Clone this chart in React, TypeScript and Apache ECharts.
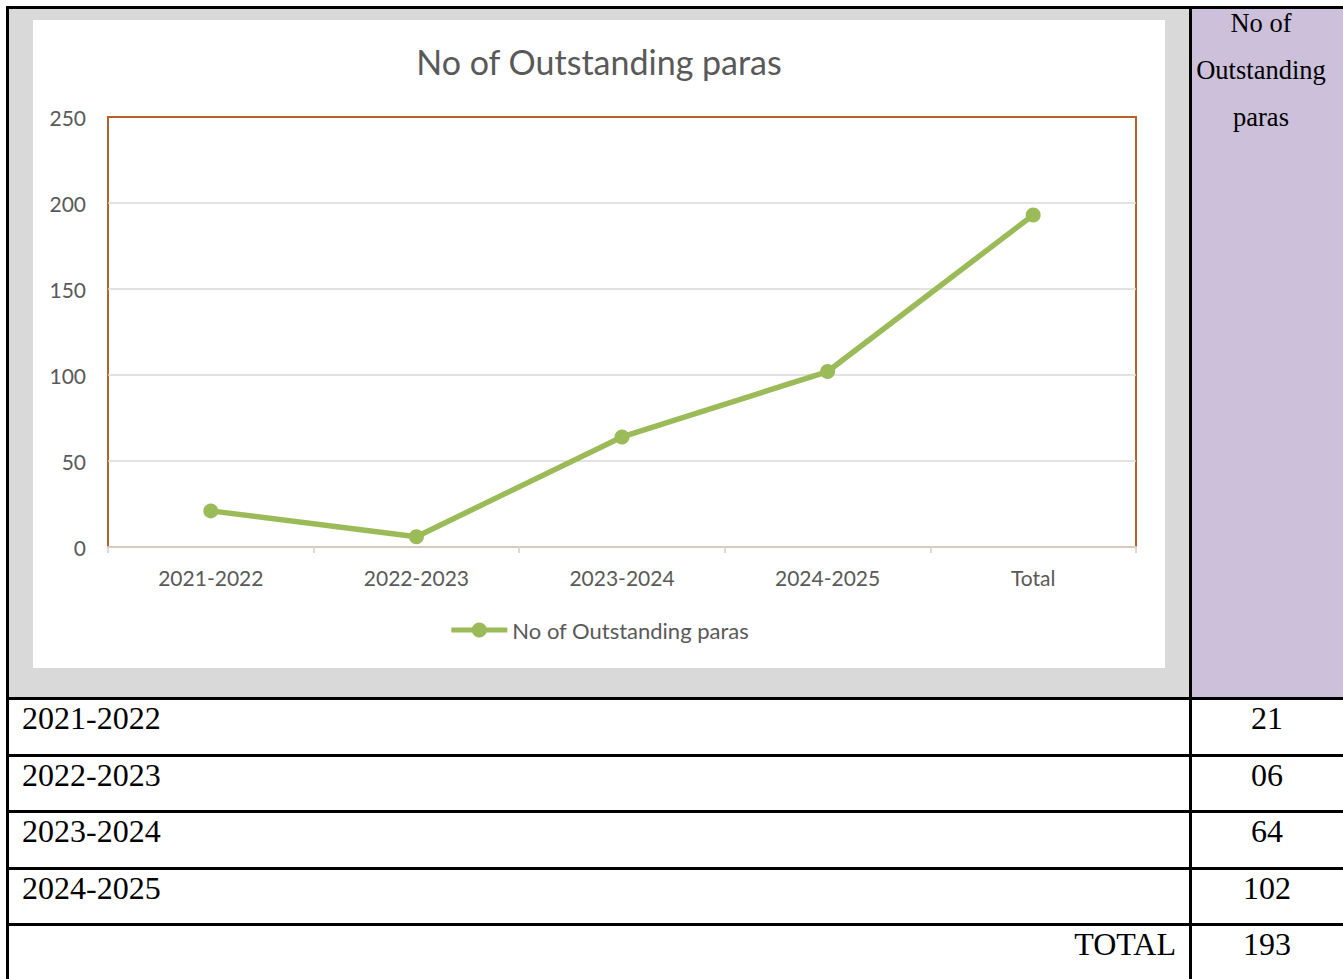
import React, { useEffect, useRef } from "react";
import * as echarts from "echarts";

const categories = ["2021-2022", "2022-2023", "2023-2024", "2024-2025", "Total"];
const values = [21, 6, 64, 102, 193];
const seriesName = "No of Outstanding paras";
const yTicks = { min: 0, max: 250, interval: 50 };
const tableRows = ["2021-2022", "2022-2023", "2023-2024", "2024-2025"];
const headerLines = ["No of", "Outstanding", "paras"];
const totalLabel = "TOTAL";

const FONT = "Lato, 'Noto Sans', sans-serif";
const SERIF = "'Liberation Serif', 'Times New Roman', serif";

function Chart() {
  const ref = useRef<HTMLDivElement>(null);
  useEffect(() => {
    if (!ref.current) return;
    const chart = echarts.init(ref.current, null, { renderer: "svg" });
    chart.setOption({
      animation: false,
      backgroundColor: "#ffffff",
      title: {
        text: seriesName,
        left: "center",
        top: 19,
        textStyle: { fontFamily: FONT, fontSize: 34, fontWeight: "normal", color: "#595959" },
      },
      legend: {
        data: [seriesName],
        top: 594,
        left: "center",
        itemWidth: 56,
        itemHeight: 19,
        itemGap: 4,
        lineStyle: { width: 5, color: "#9bbb59" },
        textStyle: { fontFamily: FONT, fontSize: 22, color: "#595959" },
      },
      grid: {
        left: 75,
        right: 29,
        top: 97,
        bottom: 121,
        show: true,
        borderColor: "#b5612a",
        borderWidth: 2,
        backgroundColor: "transparent",
      },
      xAxis: {
        type: "category",
        data: categories,
        boundaryGap: true,
        axisLine: { show: true, lineStyle: { color: "#dcc7bc", width: 2 } },
        axisTick: { show: true, length: 6, lineStyle: { color: "#d9d9d9", width: 2 } },
        axisLabel: { fontFamily: FONT, fontSize: 21, color: "#595959", margin: 20 },
        splitLine: { show: false },
      },
      yAxis: {
        type: "value",
        min: yTicks.min,
        max: yTicks.max,
        interval: yTicks.interval,
        axisLine: { show: false },
        axisTick: { show: false },
        axisLabel: { fontFamily: FONT, fontSize: 21, color: "#595959", margin: 22 },
        splitLine: { show: true, showMaxLine: false, showMinLine: false, lineStyle: { color: "#d9d9d9", width: 1.5 } },
      },
      series: [
        {
          name: seriesName,
          type: "line",
          data: values,
          symbol: "circle",
          symbolSize: 15,
          lineStyle: { color: "#9bbb59", width: 5.5 },
          itemStyle: { color: "#9bbb59" },
        },
      ],
    });
    return () => chart.dispose();
  }, []);
  return (
    <div
      ref={ref}
      style={{ position: "absolute", left: 33, top: 20, width: 1132, height: 648, background: "#fff" }}
    />
  );
}

const rowTops = [698, 755, 811, 868, 924];

export default function App() {
  const hLine = (top: number, key: string) => (
    <div key={key} style={{ position: "absolute", left: 6, top: top - 1.5, width: 1337, height: 3, background: "#000" }} />
  );
  return (
    <div
      style={{
        position: "fixed",
        left: 0,
        top: 0,
        width: 1343,
        height: 979,
        background: "#fff",
        overflow: "hidden",
      }}
    >
      <div style={{ position: "absolute", left: 8, top: 8, width: 1182, height: 690, background: "#d9d9d9" }} />
      <div style={{ position: "absolute", left: 1191, top: 8, width: 152, height: 690, background: "#ccc0da" }} />
      <Chart />
      {headerLines.map((t, i) => (
        <div
          key={t}
          style={{
            position: "absolute",
            left: 1191,
            width: 140,
            top: i * 47,
            height: 47,
            lineHeight: "47px",
            fontFamily: SERIF,
            fontSize: 26.5,
            color: "#000",
            textAlign: "center",
            whiteSpace: "nowrap",
          }}
        >
          {t}
        </div>
      ))}
      {tableRows.map((t, i) => (
        <div
          key={t}
          style={{
            position: "absolute",
            left: 22,
            top: rowTops[i] + 4,
            lineHeight: "32px",
            fontFamily: SERIF,
            fontSize: 32,
            color: "#000",
            whiteSpace: "nowrap",
          }}
        >
          {t}
        </div>
      ))}
      <div
        style={{
          position: "absolute",
          right: 1343 - 1176,
          top: rowTops[4] + 4,
          lineHeight: "32px",
          fontFamily: SERIF,
          fontSize: 32,
          color: "#000",
          whiteSpace: "nowrap",
        }}
      >
        {totalLabel}
      </div>
      {values.map((v, i) => (
        <div
          key={i}
          style={{
            position: "absolute",
            left: 1191,
            width: 152,
            top: rowTops[i] + 4,
            lineHeight: "32px",
            fontFamily: SERIF,
            fontSize: 32,
            color: "#000",
            textAlign: "center",
            whiteSpace: "nowrap",
          }}
        >
          {String(v).padStart(2, "0")}
        </div>
      ))}
      {hLine(7.5, "top")}
      {rowTops.map((t) => hLine(t, "r" + t))}
      <div style={{ position: "absolute", left: 6, top: 6, width: 3, height: 973, background: "#000" }} />
      <div style={{ position: "absolute", left: 1189, top: 6, width: 2.5, height: 973, background: "#000" }} />
    </div>
  );
}
